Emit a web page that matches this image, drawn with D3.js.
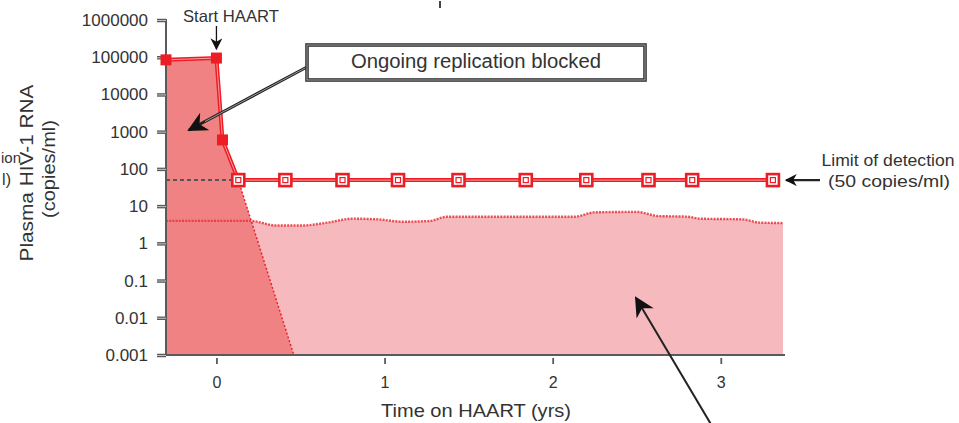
<!DOCTYPE html>
<html>
<head>
<meta charset="utf-8">
<script src="https://cdn.jsdelivr.net/npm/d3@7"></script>
<style>
  html, body { margin: 0; padding: 0; background: #fff; }
  svg { display: block; font-family: "Liberation Sans", Arial, Helvetica, sans-serif; }
</style>
</head>
<body>
<svg id="chart" width="959" height="423"></svg>
<script>
// Viral load (copies/ml) before and right after HAART start
const preYears  = [-0.3, 0, 0.036];
const preValues = [85000, 95000, 600];

// Follow-up visits, all at the 50 copies/ml detection limit
const lodYears  = [0.13, 0.41, 0.75, 1.08, 1.44, 1.84, 2.20, 2.57, 2.83, 3.31];
const lodValues = [50, 50, 50, 50, 50, 50, 50, 50, 50, 50];

// Decay of actively replicating virus (below detection)
const decayYears  = [-0.3, 0, 0.036, 0.13, 0.46];
const decayValues = [85000, 95000, 600, 50, 0.001];

// Residual low-level viremia measured with a sensitive assay
const residualYears  = [-0.3, 0.2, 0.36, 0.5, 0.66, 0.81, 0.96, 1.11, 1.27, 1.37, 2.13, 2.25, 2.5, 2.63, 2.8, 2.88, 3.13, 3.23, 3.37];
const residualValues = [4, 4, 3.0, 3.0, 3.6, 4.6, 4.4, 3.8, 4.0, 5.2, 5.2, 6.8, 7.0, 5.4, 5.2, 4.6, 4.4, 3.6, 3.5];

const yTicks      = [0.001, 0.01, 0.1, 1, 10, 100, 1000, 10000, 100000, 1000000];
const yTickLabels = ["0.001", "0.01", "0.1", "1", "10", "100", "1000", "10000", "100000", "1000000"];
const xTicks      = [0, 1, 2, 3];
const xTickLabels = ["0", "1", "2", "3"];

const svg = d3.select("#chart");
const x = d3.scaleLinear().domain([-0.3, 3.37]).range([166, 783]);
const y = d3.scaleLog().domain([0.001, 1000000]).range([355, 20]);

const RED = "#ee1c24";
const TEXT = "#333";
const FONT = "'Liberation Sans', Arial, Helvetica, sans-serif";
const defs = svg.append("defs");
function marker(id, size) {
  defs.append("marker").attr("id", id)
    .attr("viewBox", "0 0 10 10").attr("refX", 9).attr("refY", 5)
    .attr("markerWidth", size).attr("markerHeight", size)
    .attr("markerUnits", "userSpaceOnUse").attr("orient", "auto")
    .append("path").attr("d", "M0,0 L10,5 L0,10 L3,5 Z").attr("fill", "#111");
}
marker("arrowBig", 20);
marker("arrowSmall", 12);

const residual = residualYears.map((d, i) => [d, residualValues[i]]);
const decay = decayYears.map((d, i) => [d, decayValues[i]]);
const measured = preYears.map((d, i) => [d, preValues[i]])
  .concat(lodYears.map((d, i) => [d, lodValues[i]]));

// light area: residual viremia
svg.append("path")
  .datum(residual)
  .attr("d", d3.area().curve(d3.curveMonotoneX).x(d => x(d[0])).y0(y(0.001)).y1(d => y(d[1])))
  .attr("fill", "#f6babe");

// dark area: virus decaying after treatment start
svg.append("path")
  .datum(decay)
  .attr("d", d3.area().x(d => x(d[0])).y0(y(0.001)).y1(d => y(d[1])))
  .attr("fill", "#f18283");

// decay slope below detection
svg.append("path")
  .datum(decay.slice(3))
  .attr("d", d3.line().x(d => x(d[0])).y(d => y(d[1])))
  .attr("fill", "none").attr("stroke", "#e8232b").attr("stroke-width", 1.5)
  .attr("stroke-dasharray", "2,2");

// residual viremia line
svg.append("path")
  .datum(residual)
  .attr("d", d3.line().curve(d3.curveMonotoneX).x(d => x(d[0])).y(d => y(d[1])))
  .attr("fill", "none").attr("stroke", "#e8333b").attr("stroke-width", 2.4)
  .attr("stroke-dasharray", "2,1.2").attr("opacity", 0.85);

// limit of detection reference line
svg.append("line")
  .attr("x1", x(-0.3)).attr("x2", x(lodYears[0]) - 4)
  .attr("y1", y(50)).attr("y2", y(50))
  .attr("stroke", "#555").attr("stroke-width", 2).attr("stroke-dasharray", "4,3");

// axes
const axisColor = "#5a5a5a";
const yAxis = svg.append("g").attr("transform", `translate(${x(-0.3)},0)`)
  .call(d3.axisLeft(y).tickValues(yTicks).tickFormat((d, i) => yTickLabels[i]).tickSize(9).tickPadding(9));
yAxis.select(".domain").attr("stroke", axisColor).attr("stroke-width", 2).attr("d", `M-9,${y(1000000)}H0V${y(0.001)}`);
yAxis.selectAll(".tick line").attr("stroke", axisColor).attr("stroke-width", 3.5);
yAxis.selectAll(".tick").append("line").attr("x1", -9).attr("x2", 0).attr("stroke", "#ddd").attr("stroke-width", 0.8);
yAxis.selectAll(".tick text").attr("font-size", 17).attr("fill", TEXT).attr("font-family", FONT);

const xAxis = svg.append("g").attr("transform", `translate(0,${y(0.001)})`)
  .call(d3.axisBottom(x).tickValues(xTicks).tickFormat((d, i) => xTickLabels[i]).tickSize(9).tickPadding(13));
xAxis.select(".domain").attr("stroke", axisColor).attr("stroke-width", 2).attr("d", `M${x(-0.3)},0H${x(3.37) + 2}`);
xAxis.selectAll(".tick line").attr("stroke", axisColor).attr("stroke-width", 1.8).attr("y1", 3);
xAxis.selectAll(".tick text").attr("font-size", 16).attr("fill", TEXT).attr("font-family", FONT);

// measured viral load line
const lineGen = d3.line().x(d => x(d[0])).y(d => y(d[1]));
svg.append("path").datum(measured).attr("d", lineGen)
  .attr("fill", "none").attr("stroke", RED).attr("stroke-width", 4);
svg.append("path").datum(measured).attr("d", lineGen)
  .attr("fill", "none").attr("stroke", "#ffaaaa").attr("stroke-width", 0.9);

svg.selectAll(".pre").data(preYears).enter().append("rect")
  .attr("x", d => x(d) - 5.5).attr("y", (d, i) => y(preValues[i]) - 5.5)
  .attr("width", 11).attr("height", 11).attr("fill", RED);

const lodG = svg.selectAll(".lod").data(lodYears).enter().append("g")
  .attr("transform", (d, i) => `translate(${x(d)},${y(lodValues[i])})`);
lodG.append("rect").attr("x", -6).attr("y", -6).attr("width", 12).attr("height", 12)
  .attr("fill", "#fff").attr("stroke", RED).attr("stroke-width", 2.6);
lodG.append("rect").attr("x", -2.5).attr("y", -2.5).attr("width", 5).attr("height", 5)
  .attr("fill", "#fff").attr("stroke", RED).attr("stroke-width", 1.2);

// text helper
function label(t, px, py, size, len, anchor, rot) {
  const el = svg.append("text").attr("x", px).attr("y", py)
    .attr("font-size", size).attr("fill", TEXT)
    .attr("text-anchor", anchor || "middle").text(t);
  if (len) el.attr("textLength", len).attr("lengthAdjust", "spacingAndGlyphs");
  if (rot) el.attr("transform", `rotate(-90,${px},${py})`);
  return el;
}

// Start HAART
label("Start HAART", 183, 22, 16.5, 96, "start");
svg.append("line").attr("x1", x(0)).attr("x2", x(0)).attr("y1", 26).attr("y2", 49)
  .attr("stroke", "#111").attr("stroke-width", 1.3).attr("marker-end", "url(#arrowSmall)");

// Ongoing replication box + arrow
svg.append("line").attr("x1", 307).attr("y1", 67).attr("x2", 189).attr("y2", 130)
  .attr("stroke", "#222").attr("stroke-width", 3).attr("marker-end", "url(#arrowBig)");
svg.append("line").attr("x1", 307).attr("y1", 67).attr("x2", 205).attr("y2", 121.5)
  .attr("stroke", "#bbb").attr("stroke-width", 0.8);
svg.append("rect").attr("x", 307).attr("y", 45).attr("width", 338).attr("height", 35)
  .attr("fill", "#fff").attr("stroke", "#333").attr("stroke-width", 3.6);
svg.append("rect").attr("x", 307).attr("y", 45).attr("width", 338).attr("height", 35)
  .attr("fill", "none").attr("stroke", "#aaa").attr("stroke-width", 0.9);
label("Ongoing replication blocked", 476, 68, 19.5, 250);

// Limit of detection annotation
svg.append("line").attr("x1", 820).attr("x2", 786).attr("y1", y(50)).attr("y2", y(50))
  .attr("stroke", "#222").attr("stroke-width", 2.2).attr("marker-end", "url(#arrowSmall)");
label("Limit of detection", 888, 166, 17, 133);
label("(50 copies/ml)", 889, 187, 17, 122);

// lower arrow pointing into residual viremia area
svg.append("line").attr("x1", 712).attr("y1", 426).attr("x2", 636).attr("y2", 298)
  .attr("stroke", "#222").attr("stroke-width", 2).attr("marker-end", "url(#arrowBig)");

// axis titles
label("Time on HAART (yrs)", 476, 417, 18.5, 190);
label("Plasma HIV-1 RNA", 33, 173, 18.5, 177, "middle", true);
label("(copies/ml)", 55, 169, 17.5, 98, "middle", true);

// partial labels at the left edge and top
label("ion", 1, 163, 15, null, "start");
label("l)", 11, 185, 16, null, "end");
svg.append("line").attr("x1", 440).attr("x2", 440).attr("y1", 1).attr("y2", 8)
  .attr("stroke", "#444").attr("stroke-width", 2);
</script>
</body>
</html>
